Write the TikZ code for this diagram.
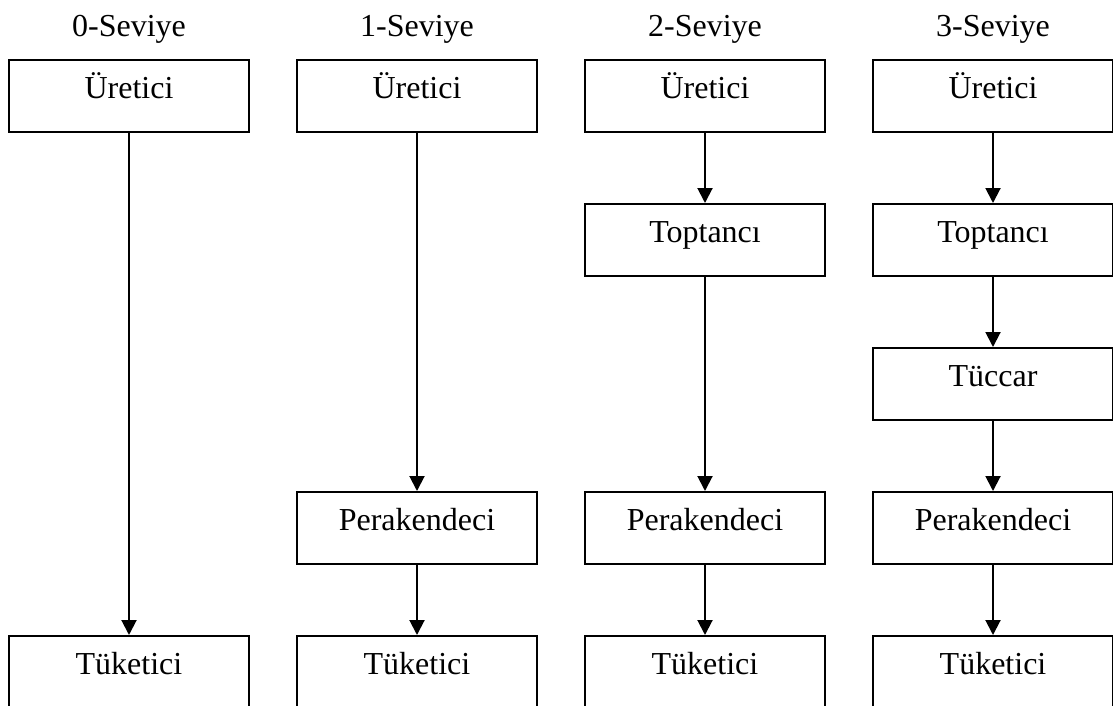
\documentclass[tikz,border=0pt]{standalone}
\usepackage{fontspec}
\setmainfont{Liberation Serif}
\usetikzlibrary{arrows.meta}
\begin{document}
\begin{tikzpicture}[x=0.75pt,y=-0.75pt,
  stage/.style={draw,line width=1.5pt,rectangle,minimum width=180pt,minimum height=54pt,
    inner sep=0pt,text height=9.75pt,text depth=6pt,font=\fontsize{24}{28}\selectfont},
  endstage/.style={stage,minimum height=60pt,text height=6.75pt,text depth=9pt},
  level/.style={anchor=base,inner sep=0pt,font=\fontsize{24}{28}\selectfont},
  flow/.style={line width=1.5pt,-{Triangle[width=11.25pt,length=11.25pt]}}]
\useasboundingbox (0,0) rectangle (1113,706);

% column headings
\node[level] (h0) at (129,37) {0-Seviye};
\node[level] (h1) at (417,37) {1-Seviye};
\node[level] (h2) at (705,37) {2-Seviye};
\node[level] (h3) at (993,37) {3-Seviye};

% 0-level channel
\node[stage] (u0) at (129,96) {Üretici};
\node[endstage] (t0) at (129,676) {Tüketici};
\draw[flow] (u0) -- (t0);

% 1-level channel
\node[stage] (u1) at (417,96) {Üretici};
\node[stage] (p1) at (417,528) {Perakendeci};
\node[endstage] (t1) at (417,676) {Tüketici};
\draw[flow] (u1) -- (p1);
\draw[flow] (p1) -- (t1);

% 2-level channel
\node[stage] (u2) at (705,96) {Üretici};
\node[stage] (w2) at (705,240) {Toptancı};
\node[stage] (p2) at (705,528) {Perakendeci};
\node[endstage] (t2) at (705,676) {Tüketici};
\draw[flow] (u2) -- (w2);
\draw[flow] (w2) -- (p2);
\draw[flow] (p2) -- (t2);

% 3-level channel
\node[stage] (u3) at (993,96) {Üretici};
\node[stage] (w3) at (993,240) {Toptancı};
\node[stage] (m3) at (993,384) {Tüccar};
\node[stage] (p3) at (993,528) {Perakendeci};
\node[endstage] (t3) at (993,676) {Tüketici};
\draw[flow] (u3) -- (w3);
\draw[flow] (w3) -- (m3);
\draw[flow] (m3) -- (p3);
\draw[flow] (p3) -- (t3);
\end{tikzpicture}
\end{document}
